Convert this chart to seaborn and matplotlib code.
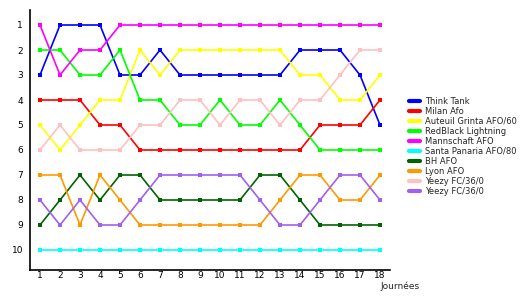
import matplotlib
matplotlib.use("Agg")
import matplotlib.pyplot as plt
import seaborn as sns
import pandas as pd

journees = list(range(1, 19))
teams = ["Think Tank", "Milan Afo", "Auteuil Grinta AFO/60", "RedBlack Lightning",
         "Mannschaft AFO", "Santa Panaria AFO/80", "BH AFO", "Lyon AFO",
         "Yeezy FC/36/0", "Yeezy FC/36/0"]
think_tank = [3, 1, 1, 1, 3, 3, 2, 3, 3, 3, 3, 3, 3, 2, 2, 2, 3, 5]
milan_afo = [4, 4, 4, 5, 5, 6, 6, 6, 6, 6, 6, 6, 6, 6, 5, 5, 5, 4]
auteuil = [5, 6, 5, 4, 4, 2, 3, 2, 2, 2, 2, 2, 2, 3, 3, 4, 4, 3]
redblack = [2, 2, 3, 3, 2, 4, 4, 5, 5, 4, 5, 5, 4, 5, 6, 6, 6, 6]
mannschaft = [1, 3, 2, 2, 1, 1, 1, 1, 1, 1, 1, 1, 1, 1, 1, 1, 1, 1]
santa = [10] * 18
bh_afo = [9, 8, 7, 8, 7, 7, 8, 8, 8, 8, 8, 7, 7, 8, 9, 9, 9, 9]
lyon = [7, 7, 9, 7, 8, 9, 9, 9, 9, 9, 9, 9, 8, 7, 7, 8, 8, 7]
yeezy_a = [6, 5, 6, 6, 6, 5, 5, 4, 4, 5, 4, 4, 5, 4, 4, 3, 2, 2]
yeezy_b = [8, 9, 8, 9, 9, 8, 7, 7, 7, 7, 7, 8, 9, 9, 8, 7, 7, 8]
series = [think_tank, milan_afo, auteuil, redblack, mannschaft, santa,
          bh_afo, lyon, yeezy_a, yeezy_b]
colors = ["#0000FF", "#FF0000", "#FFFF00", "#00FF00", "#FF00FF", "#00FFFF",
          "#006400", "#FF9900", "#FFC0C0", "#A060F0"]

sns.set_theme(style="white")
plt.rcParams['font.family'] = ['DejaVu Sans']

fig = plt.figure(figsize=(5.3, 3.0), dpi=100)
ax = fig.add_axes([30/530, 1 - 270/300, 360/530, 260/300])

for i, (name, vals, c) in enumerate(zip(teams, series, colors)):
    df = pd.DataFrame({"j": journees, "r": vals})
    sns.lineplot(data=df, x="j", y="r", ax=ax, color=c, marker="s",
                 markersize=3, markeredgewidth=0, linewidth=1.2, label=name,
                 legend=False)

ax.set_xlim(0.5, 18.5)
ax.set_ylim(10.8, 0.4)
ax.set_xticks(journees)
ax.set_yticks(range(1, 11))
ax.tick_params(axis="x", length=0, labelsize=6.5, colors="black", pad=1)
ax.tick_params(axis="y", length=0, labelsize=6.5, colors="black", pad=5)
ax.set_xlabel("")
ax.set_ylabel("")
for s in ["top", "right"]:
    ax.spines[s].set_visible(False)
for s in ["left", "bottom"]:
    ax.spines[s].set_color("black")
    ax.spines[s].set_linewidth(1.2)

handles = [plt.Line2D([], [], color=c, linewidth=3) for c in colors]
fig.legend(handles, teams, loc="upper left", bbox_to_anchor=(409/530, 1 - 97/300),
           frameon=False, fontsize=6, handlelength=1.3, handletextpad=0.6,
           labelspacing=0.12, borderpad=0, borderaxespad=0)

fig.text(380/530, 1 - 286/300, "Journées", fontsize=6.5, va="center", ha="left")

fig.savefig("out.png", dpi=100)
